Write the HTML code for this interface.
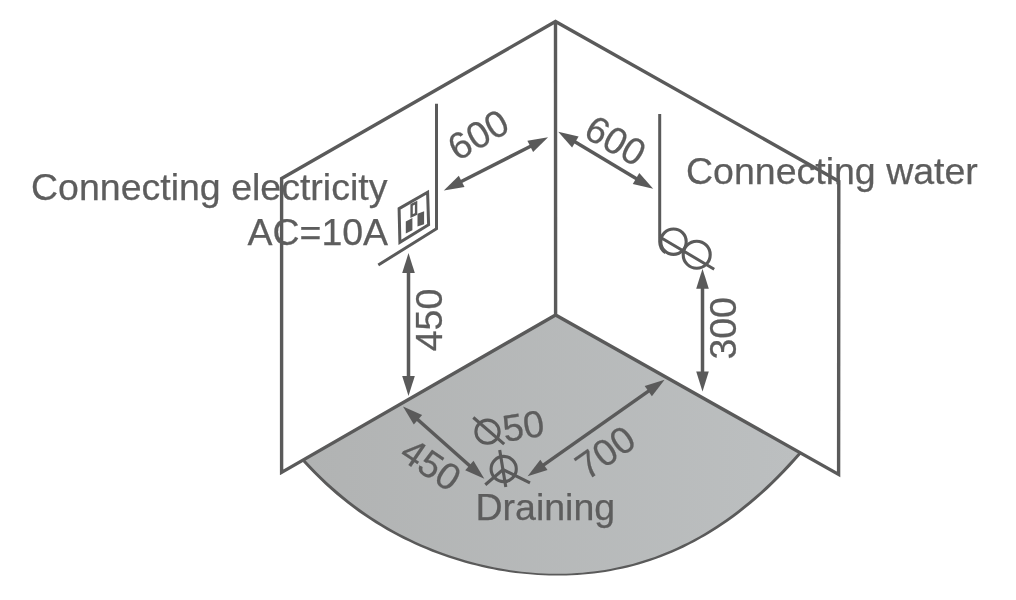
<!DOCTYPE html>
<html><head><meta charset="utf-8"><title>Connection diagram</title>
<style>html,body{margin:0;padding:0;background:#fff;}body{width:1016px;height:600px;overflow:hidden;}svg{display:block;}text{stroke:#5d5d5d;stroke-width:0.25px;}</style>
</head><body>
<svg width="1016" height="600" viewBox="0 0 1016 600" font-family="'Liberation Sans', sans-serif" fill="#5d5d5d">
<defs><filter id="g" filterUnits="userSpaceOnUse" x="0" y="0" width="1016" height="600"><feGaussianBlur stdDeviation="0.4"/></filter><linearGradient id="fl" gradientUnits="userSpaceOnUse" x1="300" y1="0" x2="800" y2="0"><stop offset="0" stop-color="#b1b3b3"/><stop offset="1" stop-color="#bcbfc0"/></linearGradient></defs>
<g filter="url(#g)">
<path d="M555.6 315.0 L303.8 459.6 C307.0 463.1 316.5 474.0 322.9 480.3 C329.3 486.5 335.6 491.9 342.0 497.2 C348.3 502.5 354.7 507.3 361.1 511.8 C367.4 516.3 373.8 520.5 380.2 524.4 C386.5 528.3 392.9 531.8 399.3 535.2 C405.6 538.5 412.0 541.6 418.4 544.4 C424.7 547.3 431.1 549.9 437.4 552.3 C443.8 554.7 450.2 556.9 456.5 558.9 C462.9 560.9 469.3 562.7 475.6 564.3 C482.0 565.9 488.4 567.3 494.7 568.5 C501.1 569.8 507.5 570.8 513.8 571.7 C520.2 572.6 526.5 573.2 532.9 573.7 C539.3 574.2 545.6 574.5 552.0 574.6 C558.4 574.7 564.7 574.6 571.1 574.3 C577.5 574.1 583.8 573.6 590.2 572.9 C596.5 572.2 602.9 571.3 609.3 570.1 C615.6 569.0 622.0 567.7 628.4 566.1 C634.7 564.5 641.1 562.7 647.5 560.6 C653.8 558.5 660.2 556.2 666.6 553.6 C672.9 551.0 679.3 548.1 685.6 545.0 C692.0 541.8 698.4 538.4 704.7 534.7 C711.1 530.9 717.5 526.9 723.8 522.5 C730.2 518.1 736.6 513.5 742.9 508.4 C749.3 503.4 755.7 498.0 762.0 492.2 C768.4 486.4 774.7 480.3 781.1 473.7 C787.5 467.2 797.0 456.3 800.2 452.8 Z" fill="url(#fl)"/>
<polygon points="302.7,461.7 308.3,467.8 313.9,473.6 319.5,479.1 325.1,484.4 330.7,489.5 336.3,494.4 341.9,499.1 347.5,503.5 353.1,507.8 358.7,511.9 364.3,515.8 370.0,519.6 375.6,523.2 381.2,526.6 386.8,529.9 392.4,533.0 398.0,536.0 403.6,538.9 409.2,541.6 414.8,544.2 420.4,546.7 426.0,549.1 431.6,551.4 437.2,553.5 442.8,555.5 448.4,557.5 454.0,559.3 459.6,561.0 465.2,562.7 470.8,564.2 476.4,565.6 482.0,566.9 487.6,568.2 493.2,569.3 498.8,570.4 504.4,571.3 510.0,572.2 515.6,572.9 521.2,573.6 526.8,574.1 532.4,574.6 538.0,575.0 543.6,575.2 549.2,575.4 554.8,575.5 560.4,575.5 566.0,575.4 571.6,575.2 577.2,574.9 582.8,574.5 588.4,574.0 593.9,573.4 599.5,572.7 605.1,571.9 610.7,570.9 616.3,569.8 621.9,568.7 627.6,567.4 633.2,566.0 638.8,564.4 644.4,562.7 650.0,561.0 655.6,559.0 661.2,557.0 666.8,554.8 672.4,552.4 678.0,550.0 683.6,547.4 689.2,544.6 694.8,541.7 700.4,538.6 706.0,535.4 711.7,532.0 717.3,528.5 722.9,524.8 728.5,520.9 734.1,516.9 739.7,512.7 745.3,508.3 750.9,503.8 756.5,499.0 762.1,494.1 767.8,488.9 773.4,483.6 779.0,478.1 784.6,472.3 790.1,466.4 795.7,460.2 801.3,453.9 799.1,451.9 793.5,458.2 787.9,464.3 782.4,470.3 776.8,476.0 771.3,481.4 765.7,486.8 760.2,491.9 754.6,496.8 749.1,501.5 743.5,506.1 738.0,510.5 732.4,514.7 726.9,518.7 721.4,522.6 715.8,526.3 710.3,529.8 704.7,533.2 699.2,536.4 693.6,539.5 688.1,542.4 682.5,545.1 677.0,547.8 671.4,550.2 665.9,552.6 660.3,554.8 654.8,556.9 649.2,558.8 643.7,560.6 638.1,562.3 632.6,563.9 627.0,565.3 621.5,566.6 615.9,567.8 610.4,568.9 604.8,569.9 599.3,570.7 593.7,571.5 588.2,572.1 582.6,572.7 577.0,573.1 571.5,573.4 565.9,573.7 560.4,573.8 554.8,573.8 549.2,573.7 543.7,573.5 538.1,573.2 532.6,572.8 527.0,572.3 521.4,571.7 515.9,571.0 510.3,570.2 504.8,569.3 499.2,568.3 493.6,567.3 488.1,566.1 482.5,564.8 477.0,563.5 471.4,562.0 465.9,560.5 460.3,558.8 454.7,557.1 449.2,555.2 443.6,553.3 438.1,551.2 432.5,549.1 427.0,546.8 421.4,544.4 415.9,541.9 410.3,539.3 404.8,536.5 399.2,533.7 393.7,530.7 388.1,527.5 382.6,524.2 377.1,520.8 371.5,517.2 366.0,513.5 360.4,509.6 354.9,505.5 349.3,501.2 343.8,496.7 338.2,492.1 332.7,487.3 327.1,482.2 321.6,476.9 316.0,471.4 310.5,465.7 304.9,459.7" fill="#5a5a5a"/>
<path d="M281.6 472.4 L281.6 178.4 L555.5 21.5 L838.8 181.2 L838.6 474.4 L555.6 315.0 Z M555.5 21.5 L555.6 315.0" fill="none" stroke="#5a5a5a" stroke-width="3.4" stroke-linejoin="miter"/>
<path d="M436.5 103.7 L436.5 228.7 L378.3 265" fill="none" stroke="#5a5a5a" stroke-width="3.0"/>
<polygon points="399.1,208.6 427.6,192.2 428.6,224.7 399.9,242.3" fill="none" stroke="#5a5a5a" stroke-width="3.0"/>
<polygon points="405.8,221.4 412.4,218.1 412.4,230.2 405.8,233.5" fill="#5a5a5a"/>
<polygon points="417.5,213.7 424.1,211.3 424.1,224.2 417.5,226.4" fill="#5a5a5a"/>
<polygon points="411.6,204.9 416.1,202.7 416.1,213.9 411.6,216.1" fill="none" stroke="#5a5a5a" stroke-width="2.4"/>
<path d="M659.7 114 L659.7 241.7 A13.6 13.6 0 0 0 665.5 252.8 M660.2 237.2 L714.2 269.2" fill="none" stroke="#5a5a5a" stroke-width="3.0"/>
<circle cx="673.5" cy="241.7" r="12.7" fill="none" stroke="#5a5a5a" stroke-width="3.1"/>
<circle cx="696.7" cy="254.7" r="13.5" fill="none" stroke="#5a5a5a" stroke-width="3.1"/>
<line x1="459.8" y1="182.2" x2="532.1" y2="145.5" stroke="#5a5a5a" stroke-width="3.5"/><polygon points="443.8,190.4 464.5,186.9 458.8,175.8" fill="#5a5a5a"/><polygon points="548.1,137.3 533.1,151.9 527.4,140.8" fill="#5a5a5a"/>
<line x1="573.6" y1="141.0" x2="637.8" y2="179.5" stroke="#5a5a5a" stroke-width="3.5"/><polygon points="558.2,131.7 572.1,147.4 578.6,136.6" fill="#5a5a5a"/><polygon points="653.2,188.8 632.8,183.9 639.3,173.1" fill="#5a5a5a"/>
<line x1="408.5" y1="270.9" x2="408.5" y2="378.0" stroke="#5a5a5a" stroke-width="3.5"/><polygon points="408.5,252.9 402.2,272.9 414.8,272.9" fill="#5a5a5a"/><polygon points="408.5,396.0 402.2,376.0 414.8,376.0" fill="#5a5a5a"/>
<line x1="702.5" y1="286.8" x2="702.5" y2="373.4" stroke="#5a5a5a" stroke-width="3.5"/><polygon points="702.5,268.8 696.2,288.8 708.8,288.8" fill="#5a5a5a"/><polygon points="702.5,391.4 696.2,371.4 708.8,371.4" fill="#5a5a5a"/>
<line x1="416.5" y1="418.5" x2="470.8" y2="466.8" stroke="#5a5a5a" stroke-width="3.5"/><polygon points="403.0,406.5 413.8,424.5 422.1,415.1" fill="#5a5a5a"/><polygon points="484.3,478.8 465.2,470.2 473.5,460.8" fill="#5a5a5a"/>
<line x1="542.3" y1="465.9" x2="649.9" y2="390.1" stroke="#5a5a5a" stroke-width="3.5"/><polygon points="527.6,476.3 547.5,469.9 540.3,459.7" fill="#5a5a5a"/><polygon points="664.6,379.7 651.9,396.3 644.7,386.1" fill="#5a5a5a"/>
<circle cx="487.5" cy="431.7" r="11.6" fill="none" stroke="#5a5a5a" stroke-width="3.1"/>
<line x1="473.3" y1="417.5" x2="504.2" y2="444.2" stroke="#5a5a5a" stroke-width="3.1"/>
<circle cx="503.7" cy="469" r="12.6" fill="none" stroke="#5a5a5a" stroke-width="3.1"/>
<line x1="499.7" y1="450" x2="505.8" y2="487" stroke="#5a5a5a" stroke-width="3.1"/>
<path d="M485.3 484.7 L503 469.5 L530 482.8" fill="none" stroke="#5a5a5a" stroke-width="3.1"/>
<text x="31" y="199.7" font-size="37.5">Connecting electricity</text>
<text x="247.4" y="244.6" font-size="37.5">AC=10A</text>
<text x="686" y="184" font-size="37.5">Connecting water</text>
<text x="475.5" y="520.3" font-size="37.5">Draining</text>
<text x="478.2" y="134.8" font-size="37.5" text-anchor="middle" dominant-baseline="central" transform="rotate(-30.0 478.2 134.8)">600</text>
<text x="615.6" y="140.6" font-size="37.5" text-anchor="middle" dominant-baseline="central" transform="rotate(30.0 615.6 140.6)">600</text>
<text x="429.3" y="320.0" font-size="37.5" text-anchor="middle" dominant-baseline="central" transform="rotate(-90.0 429.3 320.0)">450</text>
<text x="722.8" y="328.3" font-size="37.5" text-anchor="middle" dominant-baseline="central" transform="rotate(-90.0 722.8 328.3)">300</text>
<text x="431.0" y="464.5" font-size="37.5" text-anchor="middle" dominant-baseline="central" transform="rotate(34.0 431.0 464.5)">450</text>
<text x="605.2" y="452.4" font-size="37.5" text-anchor="middle" dominant-baseline="central" transform="rotate(-35.0 605.2 452.4)">700</text>
<text x="523.3" y="426.0" font-size="37.5" text-anchor="middle" dominant-baseline="central" transform="rotate(-9.0 523.3 426.0)">50</text>
</g>
</svg>
</body></html>
